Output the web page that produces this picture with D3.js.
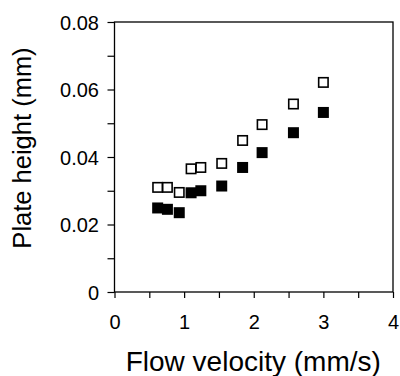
<!DOCTYPE html>
<html><head><meta charset="utf-8">
<script src="https://cdn.jsdelivr.net/npm/d3@7"></script>
<style>body{margin:0;background:#fff}svg{display:block}</style>
</head><body>
<svg id="c" width="400" height="376"></svg>
<script>
const xTicks = [0, 1, 2, 3, 4];
const yTicks = [0, 0.02, 0.04, 0.06, 0.08];
const yTickLabels = ["0", "0.02", "0.04", "0.06", "0.08"];
const velocity = [0.62, 0.76, 0.93, 1.10, 1.24, 1.54, 1.84, 2.12, 2.57, 3.00];
const openValues = [0.0310, 0.0310, 0.0295, 0.0365, 0.0369, 0.0381, 0.0449, 0.0496, 0.0557, 0.0621];
const filledValues = [0.0249, 0.0245, 0.0235, 0.0294, 0.0300, 0.0314, 0.0369, 0.0413, 0.0472, 0.0532];

const svg = d3.select("#c");
const m = {l: 114.5, r: 393, t: 22, b: 292};
const x = d3.scaleLinear().domain([0, 4]).range([m.l, m.r]);
const y = d3.scaleLinear().domain([0, 0.08]).range([m.b, m.t]);
const font = "'Liberation Sans', Arial, sans-serif";

// frame
svg.append("rect").attr("x", m.l).attr("y", m.t).attr("width", m.r - m.l).attr("height", m.b - m.t)
  .attr("fill", "none").attr("stroke", "#000").attr("stroke-width", 1.3);

// x axis
const xa = svg.append("g").attr("transform", `translate(0,${m.b})`)
  .call(d3.axisBottom(x).tickValues(d3.range(0, 4.01, 0.5)).tickSize(6)
    .tickFormat(d => xTicks.includes(d) ? String(d) : ""));
xa.select(".domain").remove();
xa.selectAll("line").attr("stroke", "#000").attr("stroke-width", 1.2);
xa.selectAll("text").attr("font-family", font).attr("font-size", 20).attr("fill", "#000")
  .attr("y", 37).attr("dy", 0);

// y axis
const ya = svg.append("g").attr("transform", `translate(${m.l},0)`)
  .call(d3.axisLeft(y).tickValues(d3.range(0, 0.0801, 0.01)).tickSize(7)
    .tickFormat(d => { const i = yTicks.findIndex(t => Math.abs(t - d) < 1e-9); return i >= 0 ? yTickLabels[i] : ""; }));
ya.select(".domain").remove();
ya.selectAll("line").attr("stroke", "#000").attr("stroke-width", 1.2);
ya.selectAll("text").attr("font-family", font).attr("font-size", 20).attr("fill", "#000")
  .attr("x", -15.5).attr("dy", "0.36em");

// points
const s = 11;
svg.append("g").selectAll("rect").data(velocity.map((v, i) => [v, filledValues[i]])).join("rect")
  .attr("x", d => x(d[0]) - s / 2).attr("y", d => y(d[1]) - s / 2).attr("width", s).attr("height", s)
  .attr("fill", "#000");
svg.append("g").selectAll("rect").data(velocity.map((v, i) => [v, openValues[i]])).join("rect")
  .attr("x", d => x(d[0]) - (s - 1.6) / 2).attr("y", d => y(d[1]) - (s - 1.6) / 2)
  .attr("width", s - 1.6).attr("height", s - 1.6)
  .attr("fill", "#fff").attr("stroke", "#000").attr("stroke-width", 1.6);

// titles
svg.append("text").attr("x", (m.l + m.r) / 2 - 0.5).attr("y", 371).attr("text-anchor", "middle")
  .attr("font-family", font).attr("font-size", 28).text("Flow velocity (mm/s)");
svg.append("text").attr("transform", "translate(31,148) rotate(-90)").attr("text-anchor", "middle")
  .attr("font-family", font).attr("font-size", 25.5).text("Plate height (mm)");
</script>
</body></html>
